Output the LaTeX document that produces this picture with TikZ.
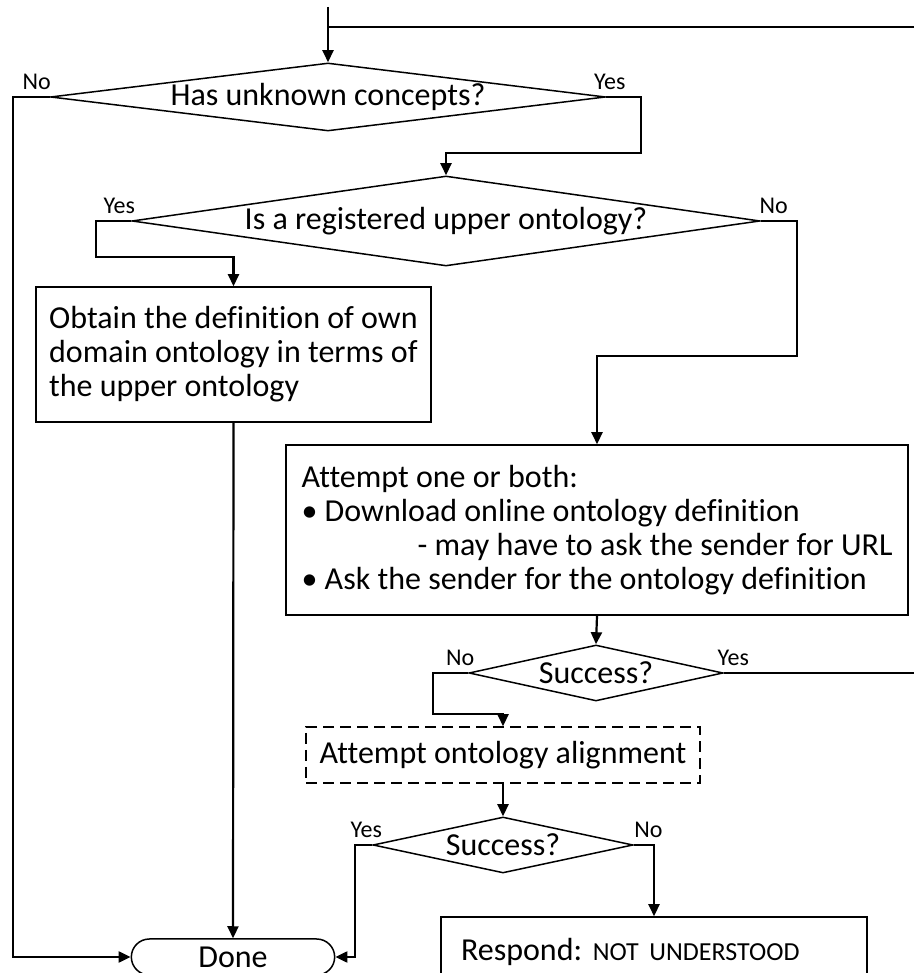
\documentclass[tikz,border=0pt]{standalone}
\usepackage{fontspec}
\setmainfont{Carlito}[Ligatures=NoCommon]
\usepackage{tikz}
\usetikzlibrary{arrows.meta,shapes.geometric,shapes.misc}

\begin{document}
\frenchspacing
\begin{tikzpicture}[->,>={Triangle[length=12pt,width=11pt]},
                    line width=2.2pt,x=1pt,y=1pt,
                    font=\fontsize{32}{34}\selectfont,
                    ask/.style={diamond,draw,line width=1.5pt,inner sep=0pt},
                    proc/.style={rectangle,draw,line width=1.5pt,align=left},
                    tryproc/.style={proc,dash pattern=on 11pt off 6pt},
                    term/.style={rounded rectangle,draw,line width=1.5pt},
                    yn/.style={font=\fontsize{24}{25}\selectfont,inner sep=1pt,above=5pt}]

\clip[-] (0,0) rectangle (914,973);

\coordinate (ENTRY) at (328,966);
\coordinate (JOIN) at (328,946);
\coordinate (BACK) at (914,946);
\coordinate (OUT) at (914,300);

\node[ask,aspect=8.16,minimum width=555pt,minimum height=68pt] (ASK1) at (328,876)
     {Has unknown concepts?};
\node[ask,aspect=6.98,minimum width=628pt,minimum height=90pt] (ASK2) at (446,752)
     {Is a registered upper ontology?};
\node[proc,minimum width=395pt,minimum height=135pt] (OBTAIN) at (233.5,618.5)
     {Obtain the definition of own\\domain ontology in terms of\\the upper ontology};
\node[proc,minimum width=622pt,minimum height=170pt] (ATTEMPT) at (597,443)
     {Attempt one or both:\\• Download online ontology definition\\
      \hspace*{116pt}- may have to ask the sender for URL\\
      • Ask the sender for the ontology definition};
\node[ask,aspect=4.54,minimum width=254pt,minimum height=56pt] (OK1) at (596,300) {Success?};
\node[tryproc,minimum width=394pt,minimum height=56pt] (ALIGN) at (503,218)
     {Attempt ontology alignment};
\node[ask,aspect=4.64,minimum width=260pt,minimum height=56pt] (OK2) at (503,128) {Success?};
\node[term,minimum width=210pt,minimum height=36pt] (DONE) at (233,16) {Done};
\node[proc,text width=386pt,inner xsep=20pt,minimum height=70pt] (RESPOND) at (654,21)
     {\mbox{Respond: {\fontsize{26}{28}\selectfont NOT UNDERSTOOD}}};

\draw[-] (BACK) -- (JOIN);
\draw (ENTRY) -- (ASK1.north);
\draw (ASK1.west) -- node[yn,pos=0.35] {No} ++(-37,0) |- (DONE.west);
\draw (ASK1.east) -- node[yn,pos=0.1] {Yes} ++(35,0) -- ++(0,-56) -| (ASK2.north);
\draw (ASK2.west) -- node[yn,pos=0.34] {Yes} ++(-35,0) -- ++(0,-36) -| (OBTAIN.north);
\draw (ASK2.east) -- node[yn,pos=0.36] {No} ++(36,0) -- ++(0,-135) -| (ATTEMPT.north);
\draw (OBTAIN.south) -- (DONE.north);
\draw (ATTEMPT.south) -- (OK1.north);
\draw[-] (OK1.east) -- node[yn,pos=0.05] {Yes} (OUT);
\draw (OK1.west) -- node[yn,pos=0.23] {No} ++(-35,0) -- ++(0,-41) -| (ALIGN.north);
\draw (ALIGN.south) -- (OK2.north);
\draw (OK2.west) -- node[yn,pos=0.35] {Yes} ++(-17,0) |- (DONE.east);
\draw (OK2.east) -| node[yn,pos=0.36] {No} (RESPOND.north);
\end{tikzpicture}
\end{document}
